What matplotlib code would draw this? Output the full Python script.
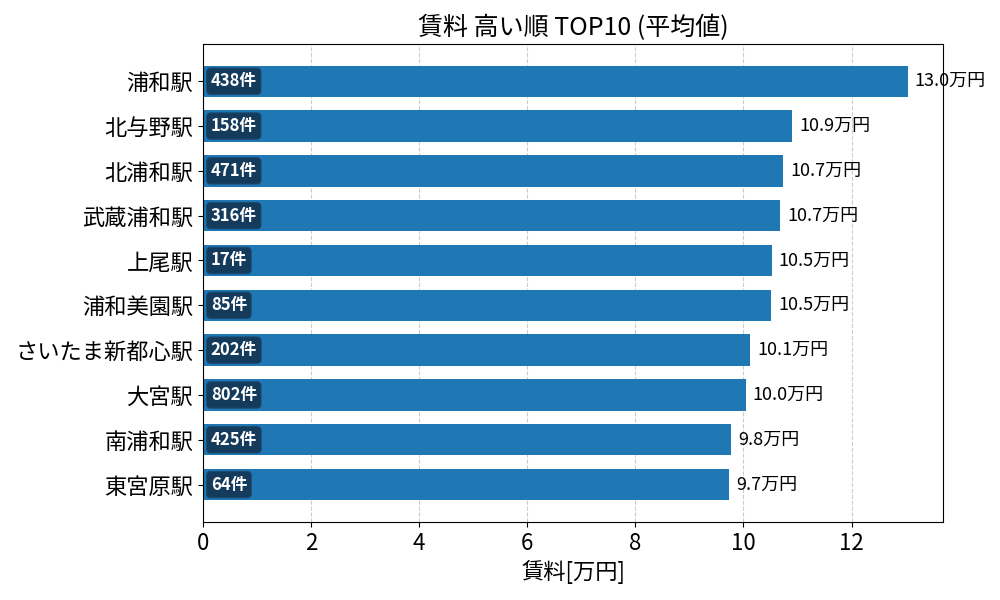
import matplotlib
matplotlib.use("Agg")
import matplotlib.pyplot as plt

plt.rcParams['font.family'] = ['Noto Sans CJK JP', 'DejaVu Sans']

stations = ["浦和駅", "北与野駅", "北浦和駅", "武蔵浦和駅", "上尾駅",
            "浦和美園駅", "さいたま新都心駅", "大宮駅", "南浦和駅", "東宮原駅"]
rent = [13.04, 10.90, 10.74, 10.68, 10.52, 10.51, 10.13, 10.04, 9.77, 9.74]
counts = [438, 158, 471, 316, 17, 85, 202, 802, 425, 64]

fig, ax = plt.subplots(figsize=(10, 6), dpi=100)
fig.subplots_adjust(left=0.203, right=0.943, top=0.927, bottom=0.13)

y = list(range(len(stations)))
ax.barh(y, rent, height=0.7, color='#1f77b4', zorder=2)
ax.set_yticks(y)
ax.set_yticklabels(stations, fontsize=16)
ax.invert_yaxis()

xmax = max(rent)
ax.set_xlim(0, xmax * 1.05)
ax.tick_params(axis='x', labelsize=16)
ax.grid(axis='x', linestyle='--', color='#cccccc', linewidth=0.8, zorder=0)
ax.set_axisbelow(True)

for yi, v, c in zip(y, rent, counts):
    ax.text(v + xmax * 0.01, yi, f"{v:.1f}万円", va='center', ha='left', fontsize=13)
    ax.text(xmax * 0.011, yi, f"{c}件", va='center', ha='left', fontsize=12,
            color='white', fontweight='bold',
            bbox=dict(boxstyle='round,pad=0.25', facecolor='#143b5c', edgecolor='#1a4a70', linewidth=0.8))

ax.set_xlabel("賃料[万円]", fontsize=16)
ax.set_title("賃料 高い順 TOP10 (平均値)", fontsize=18)

fig.savefig("out.png", dpi=100)
